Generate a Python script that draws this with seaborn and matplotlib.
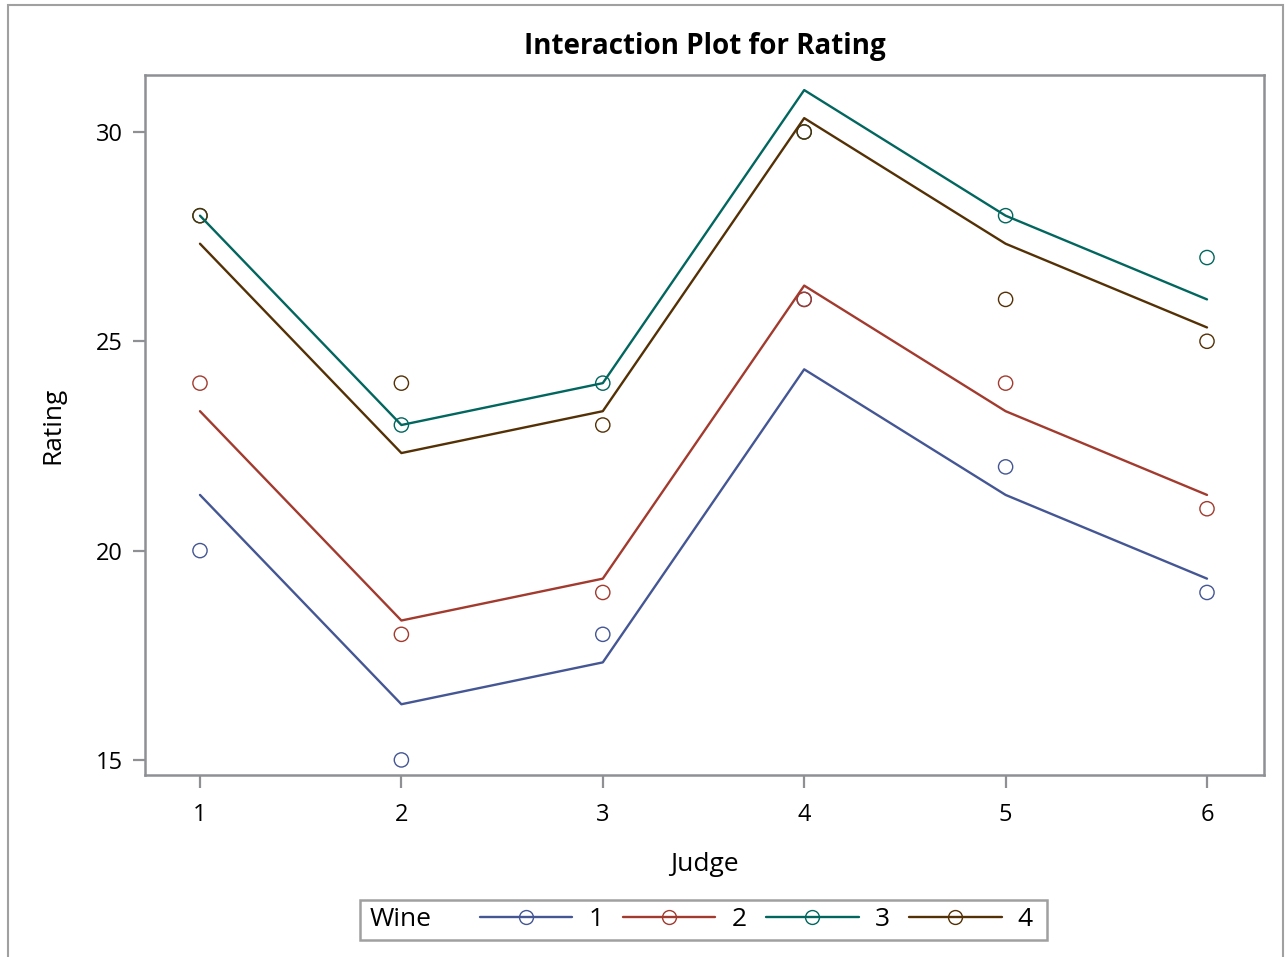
import matplotlib
matplotlib.use("Agg")
import matplotlib.pyplot as plt
import matplotlib.patches as mpatches
from matplotlib.lines import Line2D
import pandas as pd
import seaborn as sns

# ---------------- Data ----------------
judges = [1, 2, 3, 4, 5, 6]
wines = ["1", "2", "3", "4"]

# observed ratings (circles)
obs_wine1 = [20, 15, 18, 26, 22, 19]
obs_wine2 = [24, 18, 19, 26, 24, 21]
obs_wine3 = [28, 23, 24, 30, 28, 27]
obs_wine4 = [28, 24, 23, 30, 26, 25]

# fitted values (lines)
fit_wine1 = [21.33, 16.33, 17.33, 24.33, 21.33, 19.33]
fit_wine2 = [23.33, 18.33, 19.33, 26.33, 23.33, 21.33]
fit_wine3 = [28.0, 23.0, 24.0, 31.0, 28.0, 26.0]
fit_wine4 = [27.33, 22.33, 23.33, 30.33, 27.33, 25.33]

colors = ["#445694", "#A23A2E", "#01665E", "#543005"]

obs = [obs_wine1, obs_wine2, obs_wine3, obs_wine4]
fit = [fit_wine1, fit_wine2, fit_wine3, fit_wine4]
rows = []
for w, o, f in zip(wines, obs, fit):
    for j, ov, fv in zip(judges, o, f):
        rows.append({"Judge": j, "Wine": w, "Rating": ov, "Fitted": fv})
df = pd.DataFrame(rows)

# ---------------- Plot ----------------
sns.set_theme(style="white")
plt.rcParams["font.family"] = ["Open Sans", "DejaVu Sans"]
plt.rcParams["text.color"] = "black"
plt.rcParams["axes.labelcolor"] = "black"
plt.rcParams["xtick.labelcolor"] = "black"
plt.rcParams["ytick.labelcolor"] = "black"
axis_gray = "#8e9094"

fig = plt.figure(figsize=(12.85, 9.57), dpi=100)
ax = fig.add_axes([145 / 1285, 1 - 775 / 957, (1264 - 145) / 1285, (775 - 75) / 957])

palette = dict(zip(wines, colors))
sns.lineplot(data=df, x="Judge", y="Fitted", hue="Wine", palette=palette,
             linewidth=1.7, legend=False, ax=ax)
sns.scatterplot(data=df, x="Judge", y="Rating", hue="Wine", palette=palette,
                marker="o", s=105, facecolor="none", linewidth=1.0,
                legend=False, ax=ax)
# hollow circles: edge colour from hue
for coll in ax.collections:
    fc = coll.get_facecolors()
    coll.set_edgecolors(fc)
    coll.set_facecolors("none")

ax.set_xlim(0.727, 6.283)
ax.set_ylim(14.64, 31.36)
ax.set_xticks(judges)
ax.set_yticks([15, 20, 25, 30])
ax.tick_params(axis="both", which="major", length=9, width=1.6, color=axis_gray,
               labelsize=17, direction="out", bottom=True, left=True)
ax.tick_params(axis="x", pad=11)
ax.tick_params(axis="y", pad=7)
for sp in ax.spines.values():
    sp.set_color(axis_gray)
    sp.set_linewidth(1.8)

ax.set_xlabel("Judge", fontsize=19, labelpad=18)
ax.set_ylabel("Rating", fontsize=19, labelpad=22)
ax.set_title("Interaction Plot for Rating", fontsize=20, fontweight="bold", pad=15)

# ---------------- Legend (inline title, framed) ----------------
handles = [Line2D([0], [0], color=c, linewidth=1.7, marker="o", markersize=10,
                  markerfacecolor="none", markeredgecolor=c, markeredgewidth=1.0)
           for c in colors]
leg = fig.legend(handles, wines, loc="center left", ncol=4, frameon=False,
                 bbox_to_anchor=(480 / 1285, 1 - 920 / 957), fontsize=19,
                 handlelength=3.5, handletextpad=0.6, columnspacing=0.75,
                 borderpad=0, borderaxespad=0)
fig.text(370 / 1285, 1 - 920 / 957, "Wine", fontsize=19, va="center", ha="left")
fig.patches.append(mpatches.Rectangle((360 / 1285, 1 - 940 / 957), (1047 - 360) / 1285,
                                      40 / 957, transform=fig.transFigure, fill=False,
                                      edgecolor="#a0a0a0", linewidth=1.8))

# outer border
fig.patches.append(mpatches.Rectangle((8 / 1285, -0.05), (1283 - 8) / 1285, 1.05 - 5 / 957,
                                      transform=fig.transFigure, fill=False,
                                      edgecolor="#a0a0a0", linewidth=1.5))

fig.savefig("out.png", dpi=100)
